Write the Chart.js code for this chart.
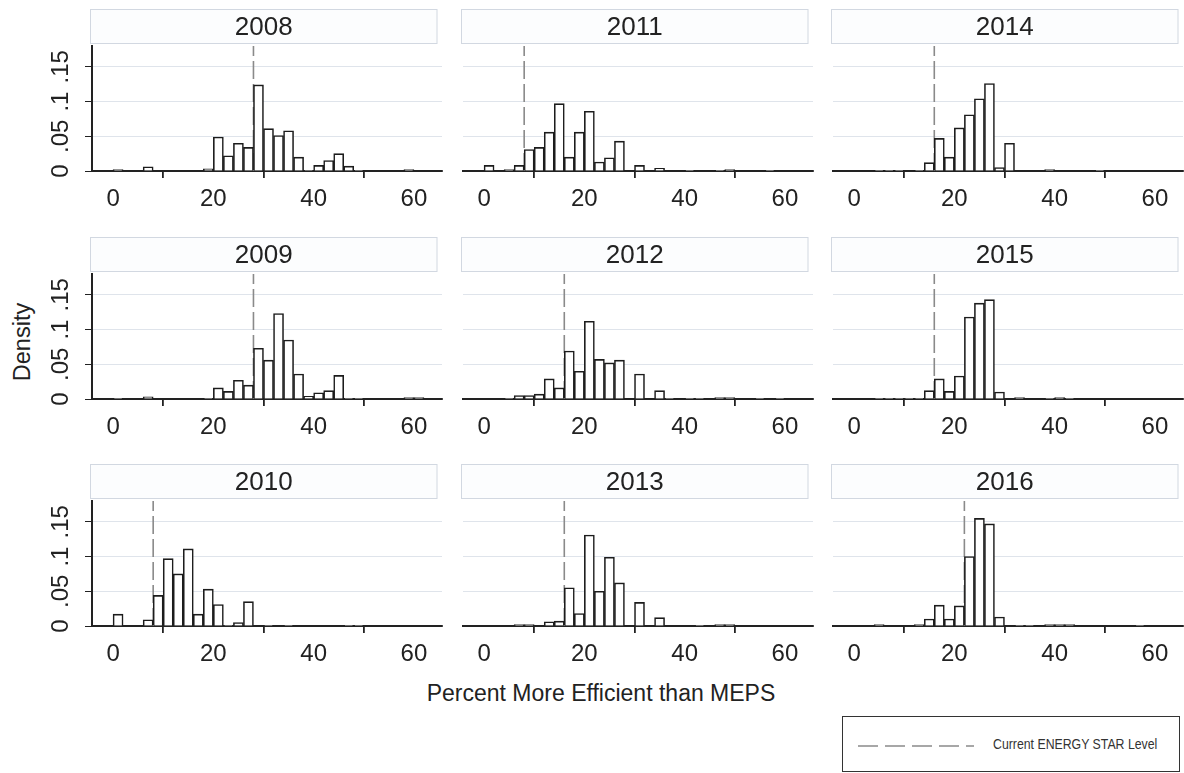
<!DOCTYPE html>
<html>
<head>
<meta charset="utf-8">
<script src="https://cdn.jsdelivr.net/npm/chart.js@4.4.0/dist/chart.umd.min.js"></script>
<style>
  body { margin: 0; background: #fff; width: 1184px; height: 773px; position: relative; overflow: hidden;
         font-family: "Liberation Sans", Arial, sans-serif; color: #222; }
  canvas.panel { position: absolute; }
  #ytitle { position: absolute; left: 22px; top: 342px; transform: translate(-50%, -50%) rotate(-90deg);
            font-size: 23.5px; white-space: nowrap; }
  #xtitle { position: absolute; left: 601px; top: 693px; transform: translate(-50%, -50%);
            font-size: 23px; white-space: nowrap; }
  #legend { position: absolute; left: 842px; top: 716px; width: 338px; height: 56px; border: 1.5px solid #333; box-sizing: border-box; }
  #legend svg { position: absolute; left: 14px; top: 27px; }
  #legend span { position: absolute; left: 150px; top: 18px; font-size: 15px; color: #333; white-space: nowrap;
                 transform: scaleX(0.82); transform-origin: left center; }
</style>
</head>
<body>
<div id="ytitle">Density</div>
<div id="xtitle">Percent More Efficient than MEPS</div>
<div id="legend">
  <svg width="120" height="4"><line x1="1" y1="2" x2="117" y2="2" stroke="#8a8a8a" stroke-width="1.6" stroke-dasharray="20 7"/></svg>
  <span>Current ENERGY STAR Level</span>
</div>
<script>
// histogram bins, width 2, from 0 to 64 (midpoints)
const binMid = [1, 3, 5, 7, 9, 11, 13, 15, 17, 19, 21, 23, 25, 27, 29, 31,
                33, 35, 37, 39, 41, 43, 45, 47, 49, 51, 53, 55, 57, 59, 61, 63];

// density per bin
const d2008 = [0.002, 0, 0, 0.006, 0, 0, 0, 0, 0, 0.003, 0.049, 0.022, 0.040, 0.034, 0.124, 0.061,
               0.051, 0.058, 0.020, 0.001, 0.008, 0.015, 0.025, 0.007, 0.001, 0, 0, 0, 0, 0.002, 0, 0];
const d2009 = [0.001, 0, 0, 0.003, 0, 0, 0, 0, 0, 0.001, 0.016, 0.011, 0.027, 0.020, 0.073, 0.056,
               0.123, 0.085, 0.036, 0.004, 0.009, 0.012, 0.034, 0.001, 0.001, 0, 0, 0, 0, 0.002, 0.002, 0];
const d2010 = [0.017, 0, 0, 0.009, 0.044, 0.097, 0.075, 0.111, 0.017, 0.053, 0.031, 0.001, 0.005, 0.035, 0, 0.001,
               0, 0.001, 0, 0, 0, 0, 0, 0.001, 0.001, 0, 0, 0, 0, 0, 0, 0];
const d2011 = [0.008, 0, 0.002, 0.008, 0.031, 0.034, 0.056, 0.097, 0.020, 0.056, 0.086, 0.013, 0.019, 0.043, 0, 0.008,
               0, 0.004, 0, 0, 0.001, 0, 0, 0.001, 0.002, 0, 0, 0, 0.001, 0, 0, 0];
const d2012 = [0, 0, 0.001, 0.005, 0.005, 0.007, 0.029, 0.016, 0.069, 0.040, 0.112, 0.057, 0.052, 0.056, 0, 0.036,
               0, 0.012, 0.001, 0, 0.001, 0.001, 0, 0.002, 0.002, 0, 0, 0.001, 0, 0.001, 0, 0];
const d2013 = [0, 0, 0, 0.002, 0.002, 0, 0.006, 0.007, 0.055, 0.018, 0.131, 0.050, 0.099, 0.062, 0, 0.034,
               0, 0.012, 0, 0, 0, 0.001, 0, 0.002, 0.002, 0, 0, 0, 0, 0, 0, 0];
const d2014 = [0, 0, 0.001, 0.001, 0.001, 0, 0.001, 0.012, 0.047, 0.020, 0.062, 0.081, 0.104, 0.126, 0.005, 0.040,
               0, 0, 0, 0.002, 0, 0, 0, 0, 0.001, 0, 0, 0, 0, 0, 0, 0];
const d2015 = [0, 0, 0.001, 0.001, 0.001, 0.001, 0.001, 0.012, 0.029, 0.011, 0.033, 0.118, 0.138, 0.143, 0.010, 0,
               0.002, 0, 0, 0.001, 0.002, 0.001, 0, 0, 0, 0, 0, 0, 0, 0, 0, 0];
const d2016 = [0, 0, 0.002, 0, 0, 0, 0.002, 0.010, 0.030, 0.010, 0.029, 0.100, 0.155, 0.147, 0.013, 0,
               0.001, 0.001, 0, 0.002, 0.002, 0.002, 0, 0, 0, 0, 0, 0, 0.001, 0, 0, 0];

// panels in reading order of the grid (column by column)
const years = ['2008', '2009', '2010', '2011', '2012', '2013', '2014', '2015', '2016'];
const densities = [d2008, d2009, d2010, d2011, d2012, d2013, d2014, d2015, d2016];
const starLevel = [28, 28, 8, 8, 16, 16, 16, 16, 22];

const xTicks = [0, 20, 40, 60];
const yTicks = [0, 0.05, 0.1, 0.15];
const yTickLabels = ['0', '.05', '.1', '.15'];

// layout of the 3x3 grid
const colLeft = [92, 463, 833];
const rowTop = [46, 274, 501];
const plotW = 350, plotH = 125;

const stripPlugin = {
    id: 'strip',
    beforeDraw(chart, args, opts) {
        const a = chart.chartArea;
        const ctx = chart.ctx;
        const x = a.left - 1.5, w = a.right - a.left - 3.5, y = a.top - 36.5, h = 34;
        ctx.save();
        ctx.fillStyle = '#fcfdfe';
        ctx.strokeStyle = '#d2d8e1';
        ctx.lineWidth = 1;
        ctx.fillRect(x, y, w, h);
        ctx.strokeRect(x, y, w, h);
        ctx.fillStyle = '#222';
        ctx.font = '26px "Liberation Sans", Arial, sans-serif';
        ctx.textAlign = 'center';
        ctx.textBaseline = 'middle';
        ctx.fillText(opts.title, x + w / 2, y + h / 2 + 1);
        ctx.restore();
    }
};

function makePanel(i) {
    const col = Math.floor(i / 3), row = i % 3;
    const padL = col === 0 ? 92 : 12;
    const canvas = document.createElement('canvas');
    canvas.className = 'panel';
    canvas.width = padL + plotW + 3;
    canvas.height = 40 + plotH + 45;
    canvas.style.left = (colLeft[col] - padL) + 'px';
    canvas.style.top = (rowTop[row] - 40) + 'px';
    document.body.appendChild(canvas);

    const bars = binMid.map((x, k) => ({ x: x, y: densities[i][k] }));
    const level = [{ x: starLevel[i], y: 0 }, { x: starLevel[i], y: 0.18 }];

    new Chart(canvas.getContext('2d'), {
        type: 'bar',
        data: {
            datasets: [{
                data: bars,
                backgroundColor: '#ffffff',
                borderColor: '#1c1c1c',
                borderWidth: 1.6,
                barPercentage: 1,
                categoryPercentage: 1,
                order: 1
            }, {
                type: 'line',
                data: level,
                borderColor: '#8a8a8a',
                borderWidth: 1.6,
                borderDash: [18, 5],
                pointRadius: 0,
                order: 2
            }]
        },
        options: {
            responsive: false,
            animation: false,
            devicePixelRatio: 1,
            layout: { padding: { left: col === 0 ? 0 : 12, top: 40, right: 3, bottom: 0 } },
            plugins: {
                legend: { display: false },
                tooltip: { enabled: false },
                strip: { title: years[i] }
            },
            scales: {
                x: {
                    type: 'linear',
                    min: -4.2,
                    max: 65.6,
                    offset: false,
                    afterBuildTicks: (s) => { s.ticks = xTicks.map(v => ({ value: v })); },
                    afterFit: (s) => { s.height = 45; },
                    grid: { drawOnChartArea: false, drawTicks: true, tickLength: 7, tickColor: '#222', lineWidth: 1.8 },
                    border: { display: true, color: '#222', width: 2 },
                    ticks: { color: '#222', padding: 7, maxRotation: 0, font: { family: '"Liberation Sans", Arial, sans-serif', size: 24 } }
                },
                y: {
                    min: 0,
                    max: 0.18,
                    afterBuildTicks: (s) => { s.ticks = yTicks.map(v => ({ value: v })); },
                    afterFit: (s) => { s.width = col === 0 ? 92 : 0; },
                    grid: {
                        color: 'rgba(175,188,205,0.4)',
                        lineWidth: 1,
                        drawTicks: col === 0,
                        tickLength: 7,
                        tickColor: '#222'
                    },
                    border: { display: col === 0, color: '#222', width: 2 },
                    ticks: {
                        display: col === 0,
                        color: '#222',
                        padding: 7,
                        minRotation: 90,
                        maxRotation: 90,
                        crossAlign: 'center',
                        font: { family: '"Liberation Sans", Arial, sans-serif', size: 24 },
                        callback: (v) => yTickLabels[yTicks.indexOf(v)]
                    }
                }
            }
        },
        plugins: [stripPlugin]
    });
}

for (let i = 0; i < years.length; i++) {
    makePanel(i);
}
</script>
</body>
</html>
